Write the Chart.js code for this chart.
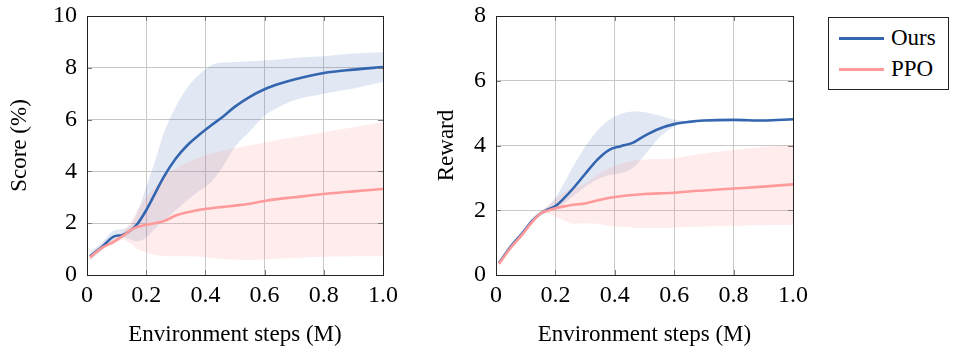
<!DOCTYPE html>
<html>
<head>
<meta charset="utf-8">
<script src="https://cdn.jsdelivr.net/npm/chart.js@4.4.1/dist/chart.umd.min.js"></script>
<style>
  body { margin: 0; background: #fff; width: 956px; height: 354px; position: relative; overflow: hidden; }
  canvas { position: absolute; top: 0; }
  #legendBox {
    position: absolute; left: 828px; top: 17px; width: 119px; height: 71px;
    border: 1px solid #222; font-family: "Liberation Serif", serif; font-size: 23px; color: #000;
  }
  .row { position: absolute; left: 10px; height: 24px; display: flex; align-items: center; }
  .swatch { width: 45px; height: 0; border-top: 3px solid; margin-right: 7px; }
</style>
</head>
<body>
<canvas id="scoreChart" width="400" height="354" style="left:0px"></canvas>
<canvas id="rewardChart" width="420" height="354" style="left:400px"></canvas>
<div id="legendBox">
  <div class="row" style="top:8px"><div class="swatch" style="border-color:#3466b0"></div>Ours</div>
  <div class="row" style="top:39px"><div class="swatch" style="border-color:#ff9a9a"></div>PPO</div>
</div>
<script>
//colours
var blue = "#3466b0";
var pink = "#ff9a9a";
var blueBand = "rgba(52,102,176,0.15)";
var pinkBand = "rgba(255,140,140,0.17)";

// x positions (M env steps)
var steps = [0.01, 0.05, 0.09, 0.12, 0.15, 0.17, 0.2, 0.23, 0.26, 0.3, 0.34, 0.38, 0.42, 0.46, 0.5, 0.55, 0.6, 0.65, 0.7, 0.8, 0.9, 1.0];

// ------- Score (%) -------
var scoreOurs   = [0.72, 1.08, 1.48, 1.55, 1.75, 1.97, 2.5, 3.15, 3.8, 4.5, 5.02, 5.42, 5.78, 6.12, 6.5, 6.88, 7.17, 7.38, 7.55, 7.8, 7.93, 8.03];
var scoreOursHi = [0.9, 1.25, 1.72, 1.78, 1.95, 2.4, 3.4, 4.4, 5.5, 6.5, 7.25, 7.75, 8.1, 8.2, 8.22, 8.25, 8.28, 8.32, 8.38, 8.45, 8.55, 8.6];
var scoreOursLo = [0.55, 0.95, 1.3, 1.45, 1.35, 1.3, 1.45, 1.8, 2.1, 2.5, 2.9, 3.25, 3.6, 4.2, 4.95, 5.55, 6.15, 6.5, 6.75, 7.0, 7.2, 7.45];
var scorePPO    = [0.68, 1.05, 1.28, 1.5, 1.75, 1.85, 1.94, 2.0, 2.08, 2.3, 2.42, 2.52, 2.58, 2.63, 2.68, 2.75, 2.86, 2.94, 3.0, 3.13, 3.23, 3.32];
var scorePPOHi  = [0.78, 1.15, 1.4, 1.65, 2.1, 2.5, 3.0, 3.4, 3.8, 4.1, 4.35, 4.55, 4.7, 4.8, 4.9, 5.0, 5.12, 5.22, 5.32, 5.5, 5.7, 5.9];
var scorePPOLo  = [0.6, 0.95, 1.2, 1.35, 1.2, 1.0, 0.88, 0.78, 0.72, 0.72, 0.72, 0.7, 0.66, 0.62, 0.6, 0.58, 0.6, 0.64, 0.66, 0.7, 0.72, 0.72];

// ------- Reward -------
var rewardOurs   = [0.37, 0.88, 1.3, 1.65, 1.9, 2.0, 2.13, 2.38, 2.68, 3.12, 3.55, 3.86, 3.98, 4.08, 4.3, 4.52, 4.66, 4.73, 4.77, 4.79, 4.77, 4.81];
var rewardOursHi = [0.45, 0.97, 1.4, 1.75, 1.98, 2.1, 2.38, 2.85, 3.36, 3.95, 4.45, 4.78, 4.97, 5.05, 5.03, 4.93, 4.8, 4.75, 4.8, 4.82, 4.8, 4.84];
var rewardOursLo = [0.3, 0.8, 1.2, 1.57, 1.84, 1.93, 2.02, 2.22, 2.43, 2.72, 2.95, 3.08, 3.15, 3.3, 3.7, 4.25, 4.58, 4.7, 4.74, 4.76, 4.74, 4.78];
var rewardPPO    = [0.35, 0.85, 1.27, 1.62, 1.9, 1.98, 2.06, 2.12, 2.17, 2.21, 2.3, 2.38, 2.43, 2.47, 2.5, 2.52, 2.54, 2.58, 2.61, 2.67, 2.73, 2.8];
var rewardPPOHi  = [0.42, 0.92, 1.35, 1.7, 1.95, 2.08, 2.33, 2.55, 2.68, 2.82, 3.1, 3.3, 3.43, 3.52, 3.57, 3.58, 3.6, 3.68, 3.75, 3.86, 3.95, 4.02];
var rewardPPOLo  = [0.28, 0.78, 1.2, 1.55, 1.85, 1.9, 1.81, 1.68, 1.58, 1.6, 1.58, 1.52, 1.5, 1.47, 1.45, 1.45, 1.47, 1.48, 1.5, 1.52, 1.54, 1.55];

var xTicks = [0, 0.2, 0.4, 0.6, 0.8, 1.0];

function pts(vals) {
    return steps.map((s, i) => ({x: s, y: vals[i]}));
}

// frame + small inner ticks like pgfplots
var framePlugin = {
    id: 'frame',
    afterDraw(chart) {
        const ctx = chart.ctx;
        const a = chart.chartArea;
        ctx.save();
        ctx.strokeStyle = "#7a7a7a";
        ctx.lineWidth = 1;
        const xs = chart.scales.x, ys = chart.scales.y;
        ctx.beginPath();
        xs.ticks.forEach(t => {
            const px = Math.round(xs.getPixelForValue(t.value)) + 0.5;
            ctx.moveTo(px, a.bottom); ctx.lineTo(px, a.bottom - 5);
            ctx.moveTo(px, a.top); ctx.lineTo(px, a.top + 5);
        });
        ys.ticks.forEach(t => {
            const py = Math.round(ys.getPixelForValue(t.value)) + 0.5;
            ctx.moveTo(a.left, py); ctx.lineTo(a.left + 5, py);
            ctx.moveTo(a.right, py); ctx.lineTo(a.right - 5, py);
        });
        ctx.stroke();
        ctx.strokeStyle = "#222";
        ctx.strokeRect(Math.round(a.left) + 0.5, Math.round(a.top) + 0.5, Math.round(a.right - a.left), Math.round(a.bottom - a.top));
        ctx.restore();
    }
};

function makeChart(id, ylabel, ymax, yWidth, padRight, titlePad, d) {
    var font = {family: "'Liberation Serif', serif", size: 23};
    var tickFont = {family: "'Liberation Serif', serif", size: 24};
    return new Chart(id, {
        type: "line",
        data: {
            datasets: [
                {data: pts(d.oursHi), borderWidth: 0, pointRadius: 0, backgroundColor: blueBand, fill: '+1', cubicInterpolationMode: 'monotone', order: 3},
                {data: pts(d.oursLo), borderWidth: 0, pointRadius: 0, fill: false, cubicInterpolationMode: 'monotone', order: 3},
                {data: pts(d.ppoHi), borderWidth: 0, pointRadius: 0, backgroundColor: pinkBand, fill: '+1', cubicInterpolationMode: 'monotone', order: 2},
                {data: pts(d.ppoLo), borderWidth: 0, pointRadius: 0, fill: false, cubicInterpolationMode: 'monotone', order: 2},
                {label: 'Ours', data: pts(d.ours), borderColor: blue, borderWidth: 2.6, pointRadius: 0, fill: false, cubicInterpolationMode: 'monotone', order: 1},
                {label: 'PPO', data: pts(d.ppo), borderColor: pink, borderWidth: 2.6, pointRadius: 0, fill: false, cubicInterpolationMode: 'monotone', order: 0}
            ]
        },
        options: {
            responsive: false,
            animation: false,
            devicePixelRatio: 1,
            layout: {padding: {left: 0, right: padRight, top: 16, bottom: 0}},
            plugins: {legend: {display: false}, tooltip: {enabled: false}},
            scales: {
                x: {
                    type: 'linear', min: 0, max: 1,
                    afterBuildTicks: s => { s.ticks = xTicks.map(v => ({value: v})); },
                    afterFit: s => { s.height = 79; s.paddingLeft = 0; s.paddingRight = 0; },
                    grid: {color: "#c8c8c8", drawTicks: false},
                    border: {display: false},
                    ticks: {font: tickFont, color: "#000", padding: 6, maxRotation: 0,
                        callback: v => v === 0 ? "0" : v.toFixed(1)},
                    title: {display: true, text: "Environment steps (M)", font: font, color: "#000", padding: {top: 0, bottom: 5}}
                },
                y: {
                    min: 0, max: ymax,
                    afterFit: s => { s.width = yWidth; s.paddingTop = 0; s.paddingBottom = 0; },
                    grid: {color: "#c8c8c8", drawTicks: false},
                    border: {display: false},
                    ticks: {font: tickFont, color: "#000", padding: 10, stepSize: 2},
                    title: {display: true, text: ylabel, font: font, color: "#000", padding: {top: titlePad, bottom: 0}}
                }
            }
        },
        plugins: [framePlugin]
    });
}

makeChart("scoreChart", "Score (%)", 10, 87, 17, 6, {
    ours: scoreOurs, oursHi: scoreOursHi, oursLo: scoreOursLo,
    ppo: scorePPO, ppoHi: scorePPOHi, ppoLo: scorePPOLo
});

makeChart("rewardChart", "Reward", 8, 96, 27, 33, {
    ours: rewardOurs, oursHi: rewardOursHi, oursLo: rewardOursLo,
    ppo: rewardPPO, ppoHi: rewardPPOHi, ppoLo: rewardPPOLo
});
</script>
</body>
</html>
